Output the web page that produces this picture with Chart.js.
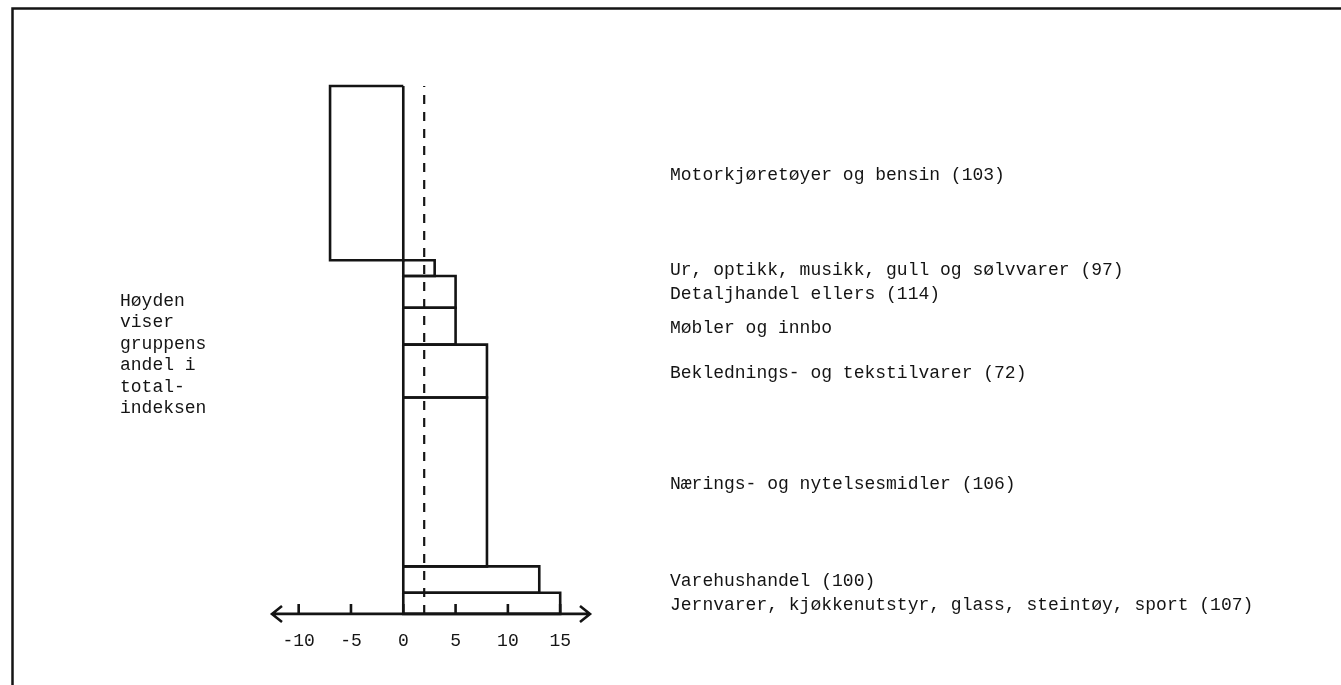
<!DOCTYPE html>
<html lang="no">
<head>
<meta charset="utf-8">
<title>Varehandel – bidrag til total-indeksen</title>
<script src="https://cdn.jsdelivr.net/npm/chart.js@4.4.0/dist/chart.umd.min.js"></script>
<style>
  html, body { margin: 0; padding: 0; background: #fff; }
  #wrap { width: 1341px; height: 685px; position: relative; }
</style>
</head>
<body>
<div id="wrap">
  <canvas id="chart" width="1341" height="685"></canvas>
</div>
<script>
'use strict';

// ──────────────────────────────────────────────────────────────
//  Data
// ──────────────────────────────────────────────────────────────
const categories = [
  'Motorkjøretøyer og bensin (103)',
  'Ur, optikk, musikk, gull og sølvvarer (97)',
  'Detaljhandel ellers (114)',
  'Møbler og innbo',
  'Beklednings- og tekstilvarer (72)',
  'Nærings- og nytelsesmidler (106)',
  'Varehushandel (100)',
  'Jernvarer, kjøkkenutstyr, glass, steintøy, sport (107)',
];
const values = [-7, 3, 5, 5, 8, 8, 13, 15];       // bar length
const shares = [33, 3, 6, 7, 10, 32, 5, 4];        // bar height = share of total index (%)
const xTicks = [-10, -5, 0, 5, 10, 15];
const avgLine = 2;                                  // dashed reference line
const noteLines = ['Høyden', 'viser', 'gruppens', 'andel i', 'total-', 'indeksen'];

// Styling
const FONT = "'Liberation Mono', 'DejaVu Sans Mono', monospace";
const INK  = '#141414';
const LW   = 2.6;

// ──────────────────────────────────────────────────────────────
//  Build one closed rectangle per group, stacked from the top
// ──────────────────────────────────────────────────────────────
const total = shares.reduce((s, v) => s + v, 0);
let cursor = total;
const bands = categories.map((label, i) => {
  const y1 = cursor;
  const y0 = cursor - shares[i];
  cursor = y0;
  return { label, v: values[i], y0, y1, mid: (y0 + y1) / 2 };
});

const rectSets = bands.map(b => ({
  label: b.label,
  data: [
    { x: 0, y: b.y1 }, { x: b.v, y: b.y1 },
    { x: b.v, y: b.y0 }, { x: 0, y: b.y0 }, { x: 0, y: b.y1 },
  ],
  showLine: true,
  borderColor: INK,
  borderWidth: LW,
  pointRadius: 0,
  tension: 0,
  fill: false,
  clip: false,
}));

const dashSet = {
  label: 'snitt',
  data: [{ x: avgLine, y: 0 }, { x: avgLine, y: total }],
  showLine: true,
  borderColor: INK,
  borderWidth: 2.2,
  borderDash: [9, 8],
  pointRadius: 0,
  fill: false,
  clip: false,
};

// ──────────────────────────────────────────────────────────────
//  Extras: axis arrows, tick marks, labels, note, frame
// ──────────────────────────────────────────────────────────────
const extras = {
  id: 'extras',
  afterDraw(chart) {
    const { ctx, chartArea, scales: { x, y } } = chart;
    const ay = y.getPixelForValue(0);
    ctx.save();
    ctx.strokeStyle = INK;
    ctx.fillStyle = INK;
    ctx.lineWidth = LW;
    ctx.lineCap = 'butt';

    // axis line with open arrowheads
    const xl = chartArea.left, xr = chartArea.right;
    ctx.beginPath();
    ctx.moveTo(xl, ay); ctx.lineTo(xr, ay);
    ctx.moveTo(xl + 10, ay - 8); ctx.lineTo(xl, ay); ctx.lineTo(xl + 10, ay + 8);
    ctx.moveTo(xr - 10, ay - 8); ctx.lineTo(xr, ay); ctx.lineTo(xr - 10, ay + 8);
    ctx.stroke();

    // tick marks pointing up
    ctx.beginPath();
    xTicks.forEach(v => {
      const px = x.getPixelForValue(v);
      ctx.moveTo(px, ay - 10); ctx.lineTo(px, ay);
    });
    ctx.stroke();

    // category labels at the middle of each band
    ctx.font = `18px ${FONT}`;
    ctx.textAlign = 'left';
    ctx.textBaseline = 'middle';
    bands.forEach(b => {
      ctx.fillText(b.label, 670, y.getPixelForValue(b.mid) + 2);
    });

    // left note
    noteLines.forEach((t, i) => ctx.fillText(t, 120, 301 + i * 21.5));

    // frame (left + top)
    ctx.lineWidth = 2.5;
    ctx.beginPath();
    ctx.moveTo(12.5, 685); ctx.lineTo(12.5, 8.5); ctx.lineTo(1341, 8.5);
    ctx.stroke();
    ctx.restore();
  },
};

new Chart(document.getElementById('chart'), {
  type: 'scatter',
  data: { datasets: [...rectSets, dashSet] },
  options: {
    responsive: false,
    animation: false,
    layout: { padding: { left: 272, right: 751, top: 86, bottom: 15.5 } },
    plugins: { legend: { display: false }, tooltip: { enabled: false } },
    scales: {
      x: {
        type: 'linear',
        min: -12.55,
        max: 17.85,
        afterBuildTicks: s => { s.ticks = xTicks.map(v => ({ value: v })); },
        grid: { display: false, drawTicks: false, tickLength: 0 },
        border: { display: false },
        ticks: {
          padding: 17,
          autoSkip: false,
          maxRotation: 0,
          color: INK,
          font: { family: FONT, size: 18 },
          callback: v => String(v),
        },
      },
      y: { display: false, min: 0, max: total },
    },
  },
  plugins: [extras],
});
</script>
</body>
</html>
